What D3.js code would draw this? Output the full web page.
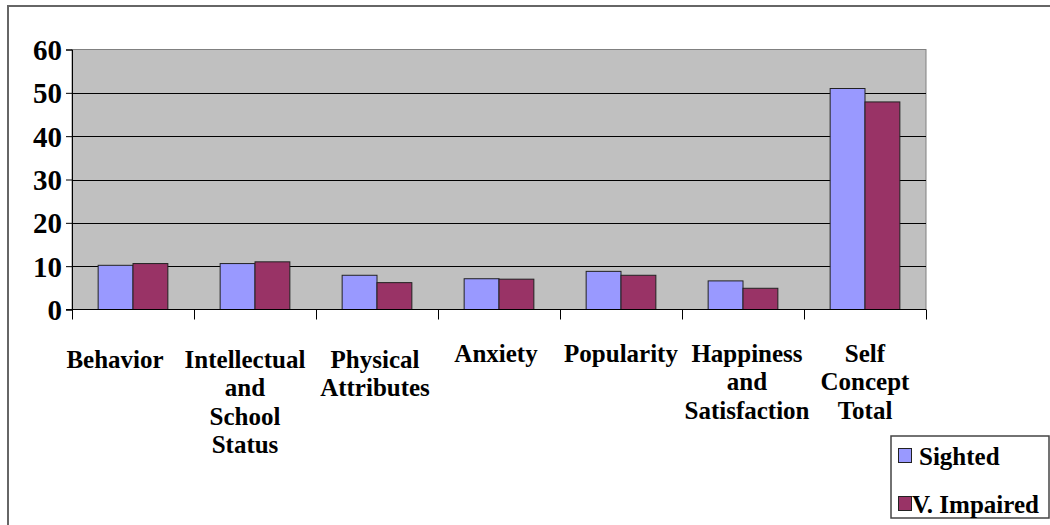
<!DOCTYPE html>
<html><head><meta charset="utf-8">
<script src="https://cdn.jsdelivr.net/npm/d3@7"></script>
<style>
html,body{margin:0;padding:0;background:#fff;}
</style></head>
<body><svg id="c" width="1050" height="525"></svg>
<script>
const categories = [
  ["Behavior"],
  ["Intellectual","and","School","Status"],
  ["Physical","Attributes"],
  ["Anxiety"],
  ["Popularity"],
  ["Happiness","and","Satisfaction"],
  ["Self","Concept","Total"]
];
const seriesNames = ["Sighted","V. Impaired"];
const sighted = [10.2, 10.6, 7.9, 7.1, 8.8, 6.6, 51.0];
const impaired = [10.6, 11.0, 6.2, 7.0, 7.9, 4.9, 47.9];
const yTicks = [0,10,20,30,40,50,60];
const colors = ["#9999FF","#993366"];

// layout constants (label nudges as rendered by the original)
const labelShift = [-18,-10,-2,-3,0,4,0];
const FONT = "'Liberation Serif', 'Times New Roman', Times, serif";
const svg = d3.select("#c");
const L = 72, R = 926, T = 49.5, B = 309.5;

function styleText(sel, size){
  return sel.style("font-family", FONT).style("font-weight","bold").style("font-size", size+"px").style("fill","#000");
}

// outer frame
svg.append("rect").attr("x",8).attr("y",6).attr("width",1060).attr("height",540)
  .attr("fill","none").attr("stroke","#666").attr("stroke-width",2);

const x = d3.scaleBand().domain(d3.range(categories.length)).range([L,R]).paddingInner(0).paddingOuter(0);
const y = d3.scaleLinear().domain([0,60]).range([B,T]);
const xs = d3.scaleBand().domain([0,1]).range([0, x.bandwidth()]).paddingInner(0).paddingOuter(0.75);

// plot area
svg.append("rect").attr("x",L).attr("y",T).attr("width",R-L).attr("height",B-T)
  .attr("fill","#C0C0C0").attr("stroke","#808080").attr("stroke-width",1);

// gridlines
svg.append("g").selectAll("line").data(yTicks.filter(d=>d>0 && d<60)).join("line")
  .attr("x1",L).attr("x2",R).attr("y1",d=>Math.round(y(d))+0.5).attr("y2",d=>Math.round(y(d))+0.5)
  .attr("stroke","#000").attr("stroke-width",1);

// bars
const data = [sighted, impaired];
data.forEach((vals,si)=>{
  svg.append("g").selectAll("rect").data(vals).join("rect")
    .attr("x",(d,i)=>x(i)+xs(si))
    .attr("y",d=>y(d))
    .attr("width",xs.bandwidth())
    .attr("height",d=>B-y(d))
    .attr("fill",colors[si]).attr("stroke","#222").attr("stroke-width",1);
});

// y axis
const ya = svg.append("g").attr("transform",`translate(${L},0)`)
  .call(d3.axisLeft(y).tickValues(yTicks).tickSize(6).tickPadding(4).tickFormat(d3.format("d")));
ya.attr("font-family", null).attr("font-size", null);
ya.select(".domain").attr("stroke","#000");
ya.selectAll(".tick line").attr("stroke","#000");
styleText(ya.selectAll("text"), 29).attr("dy","0.34em");

// x axis line + ticks
const xa = svg.append("g").attr("transform",`translate(0,${B})`);
xa.append("line").attr("x1",L-6).attr("x2",R).attr("stroke","#000");
xa.selectAll("line.t").data(d3.range(categories.length+1)).join("line").attr("class","t")
  .attr("x1",i=>i<categories.length? x(i)+0.5 : R+0.5).attr("x2",i=>i<categories.length? x(i)+0.5 : R+0.5)
  .attr("y1",0).attr("y2",10).attr("stroke","#000");

// category labels
const lab = svg.append("g");
categories.forEach((lines,i)=>{
  const cx = x(i)+x.bandwidth()/2 + labelShift[i];
  const t = styleText(lab.append("text"), 25).attr("text-anchor","middle")
    .attr("x", cx).attr("y", i<3 ? 368 : 362);
  lines.forEach((s,j)=>{
    t.append("tspan").attr("x", cx).attr("dy", j===0?0:28.3).text(s);
  });
});

// legend
const lg = svg.append("g");
lg.append("rect").attr("x",891).attr("y",436).attr("width",158).attr("height",82)
  .attr("fill","#fff").attr("stroke","#444").attr("stroke-width",1.5);
seriesNames.forEach((n,i)=>{
  const yy = i===0 ? 448 : 496;
  lg.append("rect").attr("x",898.5).attr("y",yy+0.5).attr("width",13).attr("height",14)
    .attr("fill",colors[i]).attr("stroke","#222");
  styleText(lg.append("text"), 25).attr("x", i===0?919:912).attr("y", yy+17).text(n);
});
</script></body></html>
